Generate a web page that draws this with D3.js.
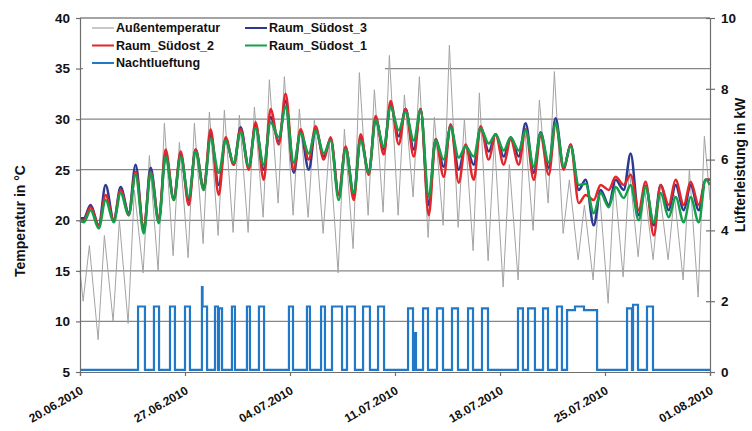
<!DOCTYPE html>
<html>
<head>
<meta charset="utf-8">
<script src="https://cdn.jsdelivr.net/npm/d3@7"></script>
<style>
  body { margin: 0; background: #fff; }
  svg { display: block; font-family: "Liberation Sans", Arial, sans-serif; }
</style>
</head>
<body>
<div id="chart"></div>
<script>
// x in days after 20.06.2010 00:00
const dateLabels = ['20.06.2010', '27.06.2010', '04.07.2010', '11.07.2010', '18.07.2010', '25.07.2010', '01.08.2010'];
const dateTickDays = [0, 7, 14, 21, 28, 35, 42];
const tempTicks = [5, 10, 15, 20, 25, 30, 35, 40];
const powerTicks = [0, 2, 4, 6, 8, 10];

// Außentemperatur: daily minimum (early morning) and maximum (afternoon)
const outdoorStart = 15;
const outdoorMin = [12, 8.2, 10, 9.8, 14.8, 15, 16.5, 16.3, 17.7, 18.5, 18.8, 18.8, 20.3, 21.7,
  20.5, 20.3, 18.7, 14.8, 17.2, 20.5, 20.8, 20.5, 22.3, 18.3, 19.5, 19.3, 17, 16,
  13.4, 14.1, 19, 21.7, 18.7, 16.1, 14.1, 11.8, 14.4, 16.4, 16.1, 16.1, 14.1, 12.4];
const outdoorMax = [17.5, 18.5, 20, 23, 26.4, 29.6, 27.7, 29.6, 30.7, 30.9, 30.4, 31.2, 33.9, 34.2,
  31, 30, 27.5, 29, 34.6, 32.9, 36.3, 32.4, 34.2, 30.2, 37.3, 30, 32.6, 28,
  25.5, 29.6, 31.9, 34.7, 24, 21.5, 23, 24, 25, 23.4, 23, 22.5, 25, 28.3];
const outdoorEnd = 22;

// Raum_Südost_1 (green)
const room1Start = 20;
const room1Min = [19.8, 19.2, 19.8, 20.5, 18.7, 19.7, 22, 22.3, 23, 24.7, 25.7, 25.3, 25.5, 28.2,
  25.7, 26.6, 26.6, 22, 22.7, 24.7, 27.3, 28.9, 27.9, 22.3, 26, 26.2, 26.3, 27.6,
  26.9, 26.9, 25.3, 25.7, 25.3, 23.5, 20.7, 21.3, 22.2, 20, 19.8, 20.3, 19.8, 19.8];
const room1Max = [21, 22, 22.7, 24.5, 24.7, 26.3, 26.3, 26.8, 28.1, 27.9, 28.7, 29.1, 29.7, 31.2,
  28.6, 28.9, 27.9, 27, 27.9, 29.9, 31.2, 30.7, 30.9, 27.9, 29.2, 27.3, 29.1, 28.5,
  28.2, 28.9, 28.6, 29.6, 27.3, 23.6, 22.7, 23.3, 23.5, 23.3, 22.7, 22.3, 22.3, 24];
const room1End = 23.5;

// Raum_Südost_2 (red)
const room2Start = 20;
const room2Min = [20, 19.5, 20, 20.5, 19.2, 20, 22, 21.5, 23, 22.5, 25.5, 25, 24, 27.5,
  25, 26, 26, 22.5, 22, 24.5, 26.5, 27.5, 26.3, 20.5, 24.3, 23.7, 24, 26,
  25.5, 25.5, 24, 24.5, 25, 21.7, 22, 23, 23.5, 21, 18.5, 21.5, 21.5, 21.5];
const room2Max = [21.3, 22.5, 23, 24.8, 24.8, 27, 26.8, 27, 29, 28.2, 29, 29.7, 31, 32.5,
  29, 29.3, 28.2, 27.3, 28.5, 30.3, 31.8, 31, 31, 28, 29.5, 27.5, 29.3, 28.5,
  28, 29, 28.3, 29.5, 27.5, 22.5, 23.5, 24.3, 24.5, 23.8, 23.5, 24, 23.8, 24];
const room2End = 24;

// Raum_Südost_3 (dark blue)
const room3Start = 20.2;
const room3Min = [20.2, 19.5, 20, 20.7, 19, 20, 22.2, 22, 23.2, 23.5, 25.5, 25.3, 25, 27.8,
  24.7, 25, 26.3, 22.5, 22.5, 24.7, 27, 28.3, 27, 21.5, 25.3, 25, 25.5, 26.8,
  26.3, 26.3, 24.7, 25.2, 25.2, 23, 19.5, 21.5, 23, 20.5, 19.5, 21, 21, 21];
const room3Max = [21.5, 23.5, 23.3, 25.5, 25.2, 26.5, 26.5, 27, 28.5, 28, 29.2, 29.4, 30.2, 31.8,
  28.8, 29, 28, 27.2, 28.2, 30, 31.4, 31, 31, 28, 29.4, 27.4, 29.2, 28.5,
  28.2, 29.6, 28.7, 30.1, 27.5, 24, 23, 24, 26.6, 23.4, 23.5, 23.5, 23.5, 24];
const room3End = 24;

// Nachtlueftung: switch-on / switch-off times (days) and power (kW)
const ventOn = [3.87, 4.93, 6.0, 7.0, 8.13, 8.17, 9.0, 9.27, 10.13, 11.13, 11.93, 13.93, 15.13, 16.07,
  16.8, 17.8, 18.87, 19.87, 21.87, 22.3, 22.87, 23.8, 24.8, 25.87, 26.8, 29.2, 29.87, 30.87,
  31.8, 32.47, 33.0, 33.6, 36.47, 36.87, 37.8];
const ventOff = [4.33, 5.27, 6.33, 7.33, 8.17, 8.47, 9.2, 9.47, 10.33, 11.33, 12.27, 14.2, 15.33, 16.33,
  17.47, 18.33, 19.33, 20.27, 22.2, 22.4, 23.2, 24.2, 25.2, 26.2, 27.2, 29.53, 30.33, 31.2,
  32.13, 33.0, 33.6, 34.47, 36.8, 37.2, 38.2];
const ventLevel = [1.85, 1.85, 1.85, 1.85, 2.4, 1.85, 1.85, 1.8, 1.85, 1.85, 1.85, 1.85, 1.85, 1.85,
  1.85, 1.85, 1.85, 1.85, 1.8, 1.1, 1.8, 1.8, 1.8, 1.8, 1.8, 1.8, 1.8, 1.8,
  1.85, 1.75, 1.85, 1.75, 1.8, 1.9, 1.85];
const ventBase = 0.06;

const width = 752, height = 431;
const margin = { top: 18, right: 42, bottom: 59, left: 80 };

const svg = d3.select('#chart').append('svg')
  .attr('width', width)
  .attr('height', height);

const x = d3.scaleLinear().domain([0, 42]).range([margin.left, width - margin.right]);
const yT = d3.scaleLinear().domain([5, 40]).range([height - margin.bottom, margin.top]);
const yP = d3.scaleLinear().domain([0, 10]).range([height - margin.bottom, margin.top]);

// daily min/max series -> points
function dailySeries(start, mins, maxs, end, hMin, hMax) {
  const pts = [[0, start]];
  mins.forEach((v, d) => {
    pts.push([d + hMin / 24, v]);
    pts.push([d + hMax / 24, maxs[d]]);
  });
  pts.push([42, end]);
  return pts;
}

const outdoor = dailySeries(outdoorStart, outdoorMin, outdoorMax, outdoorEnd, 5, 15);
const room1 = dailySeries(room1Start, room1Min, room1Max, room1End, 6, 17);
const room2 = dailySeries(room2Start, room2Min, room2Max, room2End, 6, 17);
const room3 = dailySeries(room3Start, room3Min, room3Max, room3End, 6, 17);

const vent = [[0, ventBase]];
let prevEnd = 0;
ventOn.forEach((s, i) => {
  if (s > prevEnd) vent.push([s, ventBase]);
  vent.push([s, ventLevel[i]]);
  vent.push([ventOff[i], ventLevel[i]]);
  if (ventOn[i + 1] !== ventOff[i]) vent.push([ventOff[i], ventBase]);
  prevEnd = ventOff[i];
});
vent.push([42, ventBase]);

// gridlines
svg.append('g')
  .selectAll('line')
  .data(tempTicks.filter(t => t > 5))
  .enter().append('line')
  .attr('x1', x(0)).attr('x2', x(42))
  .attr('y1', d => yT(d)).attr('y2', d => yT(d))
  .attr('stroke', '#868686')
  .attr('stroke-width', 1.3);

const tempLine = d3.line().x(d => x(d[0])).y(d => yT(d[1]));
const roomLine = d3.line().curve(d3.curveMonotoneX).x(d => x(d[0])).y(d => yT(d[1]));
const powerLine = d3.line().x(d => x(d[0])).y(d => yP(d[1]));

svg.append('path').datum(vent)
  .attr('fill', 'none').attr('stroke', '#1f78c8').attr('stroke-width', 2.2)
  .attr('d', powerLine);

svg.append('path').datum(outdoor)
  .attr('fill', 'none').attr('stroke', '#a3a3a3').attr('stroke-width', 1)
  .attr('d', tempLine);

const rooms = [
  { data: room3, color: '#2b3990' },
  { data: room2, color: '#e2262b' },
  { data: room1, color: '#13a04a' }
];
rooms.forEach(r => {
  svg.append('path').datum(r.data)
    .attr('fill', 'none').attr('stroke', r.color).attr('stroke-width', 2.5)
    .attr('stroke-linejoin', 'round')
    .attr('d', roomLine);
});

// axes
const axisColor = '#6e6e6e';
const leftAxis = svg.append('g')
  .attr('transform', `translate(${x(0)},0)`)
  .call(d3.axisLeft(yT).tickValues(tempTicks).tickSize(4).tickPadding(6));
const rightAxis = svg.append('g')
  .attr('transform', `translate(${x(42)},0)`)
  .call(d3.axisRight(yP).tickValues(powerTicks).tickSize(5).tickPadding(6));
const bottomAxis = svg.append('g')
  .attr('transform', `translate(0,${yT(5)})`)
  .call(d3.axisBottom(x).tickValues(dateTickDays).tickSize(4).tickFormat(''));

[leftAxis, rightAxis, bottomAxis].forEach(a => {
  a.select('.domain').attr('stroke', axisColor).attr('stroke-width', 1.2);
  a.selectAll('.tick line').attr('stroke', axisColor).attr('stroke-width', 1.2);
  a.selectAll('text').attr('font-size', 13.5).attr('font-weight', 'bold')
    .attr('fill', '#111').attr('font-family', '"Liberation Sans", Arial, sans-serif');
});
rightAxis.selectAll('.tick line').attr('x1', -4);

svg.append('g')
  .selectAll('text')
  .data(dateTickDays)
  .enter().append('text')
  .attr('transform', d => `translate(${x(d) + 4},393) rotate(-30)`)
  .attr('text-anchor', 'end')
  .attr('font-size', 12)
  .attr('font-weight', 'bold')
  .attr('fill', '#111')
  .text((d, i) => dateLabels[i]);

// axis titles
svg.append('text')
  .attr('transform', `translate(25,221) rotate(-90)`)
  .attr('text-anchor', 'middle')
  .attr('font-size', 14).attr('font-weight', 'bold').attr('fill', '#111')
  .text('Temperatur in °C');
svg.append('text')
  .attr('transform', `translate(745,165) rotate(-90)`)
  .attr('text-anchor', 'middle')
  .attr('font-size', 14).attr('font-weight', 'bold').attr('fill', '#111')
  .text('Lüfterleistung in kW');

// legend
const legendItems = [
  { name: 'Außentemperatur', color: '#a3a3a3', lx: 92, ly: 28, w: 1.2 },
  { name: 'Raum_Südost_3', color: '#2b3990', lx: 245, ly: 28, w: 2 },
  { name: 'Raum_Südost_2', color: '#e2262b', lx: 92, ly: 45.5, w: 2 },
  { name: 'Raum_Südost_1', color: '#13a04a', lx: 245, ly: 45.5, w: 2 },
  { name: 'Nachtlueftung', color: '#1f78c8', lx: 92, ly: 63, w: 2 }
];
svg.append('rect')
  .attr('x', 83).attr('y', 20).attr('width', 302).attr('height', 52)
  .attr('fill', '#fff');
const lg = svg.append('g').selectAll('g').data(legendItems).enter().append('g')
  .attr('transform', d => `translate(${d.lx},${d.ly})`);
lg.append('line')
  .attr('x1', 0).attr('x2', 22).attr('y1', 0).attr('y2', 0)
  .attr('stroke', d => d.color).attr('stroke-width', d => d.w);
lg.append('text')
  .attr('x', 24).attr('dy', '0.35em')
  .attr('font-size', 12.5).attr('font-weight', 'bold').attr('fill', '#111')
  .text(d => d.name);
</script>
</body>
</html>
